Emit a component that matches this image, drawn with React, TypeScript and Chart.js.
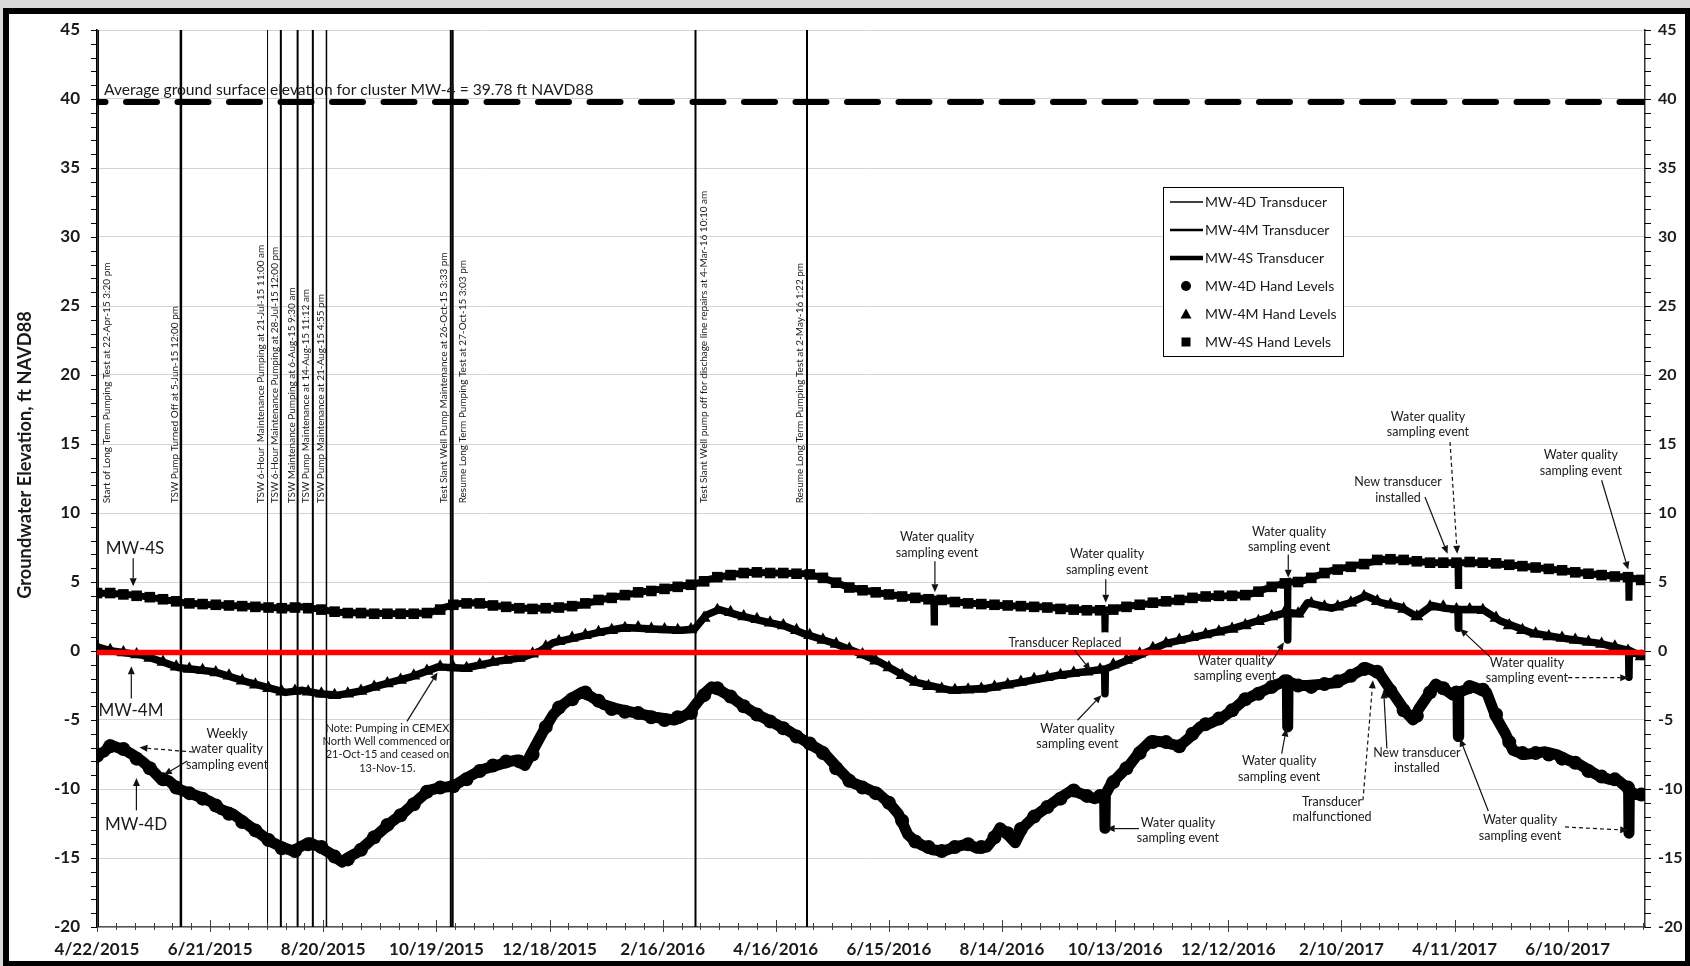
import React, { useEffect, useRef } from "react";
import { Chart, registerables } from "chart.js";

Chart.register(...registerables);

const FONT = "Lato, 'Open Sans', 'DejaVu Sans', sans-serif";

// ---------- axes (x = days since 4/22/2015) ----------
const X_MAX_DAY = 821;
const xTickDays = [0, 60, 120, 180, 240, 300, 360, 420, 480, 540, 600, 660, 720, 780];
const Y_MIN = -20;
const Y_MAX = 45;
const Y_STEP = 5;
const GROUND_ELEV = 39.78;
const RED_LEVEL = -0.1;

// ---------- transducer series: [day, elevation ft] ----------
const mw4sTransducer: [number, number][] = [
  [0, 4.2], [10, 4.15], [20, 4.05], [30, 3.85], [46, 3.5], [60, 3.35], [80, 3.25], [100, 3.1], [108, 3.2],
  [120, 3.0], [127, 2.8], [140, 2.75], [160, 2.7], [176, 2.75], [185, 3.2], [193, 3.45], [200, 3.5], [210, 3.3],
  [225, 3.1], [242, 3.1], [255, 3.3], [270, 3.8], [290, 4.3], [305, 4.6], [317, 4.85], [325, 5.2], [335, 5.5],
  [345, 5.7], [360, 5.65], [376, 5.6], [385, 5.3], [399, 4.6], [415, 4.2], [430, 3.9], [443.8, 3.75], [444, 2.1],
  [444.2, 3.75], [460, 3.5], [480, 3.3], [500, 3.2], [520, 3.0], [534.4, 2.95], [534.6, 1.35], [534.8, 2.95],
  [550, 3.3], [570, 3.6], [585, 3.9], [600, 4.0], [611, 4.1], [622, 4.6], [631.3, 5.0], [631.5, 2.9], [631.7, 5.0],
  [638, 5.0], [655, 5.85], [673, 6.35], [682, 6.65], [691, 6.6], [708, 6.4], [721.8, 6.4], [722, 4.75], [722.2, 6.4],
  [735, 6.4], [753, 6.2], [770, 5.95], [788, 5.65], [806, 5.4], [812.3, 5.35], [812.5, 3.65], [812.7, 5.35], [820, 5.1],
];

const mw4mTransducer: [number, number][] = [
  [0, 0.3], [8, 0.0], [24, -0.3], [35, -0.8], [43, -1.2], [62, -1.5], [81, -2.3], [100, -3.0], [109, -2.85],
  [118, -3.1], [128, -3.2], [140, -2.9], [147, -2.6], [166, -1.9], [181, -1.15], [195, -1.25], [214, -0.7],
  [225, -0.5], [235, 0.0], [242, 0.6], [255, 1.0], [268, 1.4], [280, 1.7], [295, 1.6], [310, 1.5], [317, 1.6],
  [323, 2.6], [330, 3.0], [340, 2.6], [352, 2.2], [365, 1.8], [376, 1.2], [390, 0.6], [405, -0.2], [415, -0.8],
  [434, -2.25], [453, -2.85], [472, -2.7], [491, -2.25], [510, -1.76], [527, -1.45], [534.4, -1.3], [534.6, -3.1],
  [534.8, -1.3], [548, -0.6], [567, 0.55], [585, 1.1], [604, 1.7], [623, 2.5], [631.3, 2.8], [631.5, 0.8],
  [631.7, 2.8], [638, 2.7], [642, 3.5], [655, 3.1], [665, 3.5], [673, 4.0], [681, 3.5], [691, 3.2], [700, 2.5],
  [708, 3.3], [715, 3.1], [721.8, 3.0], [722, 1.65], [722.2, 3.0], [735, 3.0], [744, 2.2], [761, 1.3], [779, 0.9],
  [797, 0.55], [812.3, 0.05], [812.5, -1.9], [812.7, 0.05], [820, -0.45],
];

const mw4dTransducer: [number, number][] = [
  [0, -7.5], [4, -7.3], [7, -6.8], [11, -7.0], [15, -7.2], [20, -7.6], [24, -8.0], [29, -8.6], [34, -9.3],
  [38, -9.4], [43, -10.0], [49, -10.3], [55, -10.6], [60, -10.9], [66, -11.5], [72, -11.8], [81, -12.7],
  [86, -13.2], [92, -13.8], [98, -14.2], [104, -14.5], [109, -14.1], [113, -13.9], [118, -14.2], [123, -14.6],
  [127, -15.0], [130, -15.3], [134, -14.9], [138, -14.6], [143, -14.0], [147, -13.5], [152, -12.9], [157, -12.3],
  [162, -11.8], [166, -11.3], [171, -10.7], [176, -10.1], [182, -9.9], [189, -9.8], [196, -9.2], [204, -8.6],
  [209, -8.4], [214, -8.2], [219, -8.0], [223, -7.9], [227, -8.3], [232, -7.0], [238, -5.5], [242, -4.6],
  [247, -3.9], [252, -3.4], [257, -3.0], [262, -3.3], [269, -3.9], [276, -4.2], [286, -4.5], [296, -4.8],
  [306, -5.0], [310, -4.8], [314, -4.5], [318, -3.8], [322, -3.1], [326, -2.6], [331, -2.9], [337, -3.4],
  [343, -4.0], [350, -4.6], [356, -5.0], [360, -5.3], [367, -5.8], [374, -6.4], [380, -6.9], [385, -7.3],
  [389, -7.9], [395, -8.8], [400, -9.5], [407, -9.9], [415, -10.4], [420, -11.0], [425, -11.8], [430, -13.3],
  [434, -13.8], [438, -14.1], [443, -14.4], [449, -14.5], [455, -14.2], [462, -14.0], [467, -14.3], [472, -14.2],
  [476, -13.5], [479, -12.8], [483, -13.3], [487, -13.9], [491, -12.8], [497, -12.0], [504, -11.3], [510, -10.7],
  [517, -10.1], [523, -10.4], [529, -10.7], [534.4, -10.5], [534.6, -12.85], [534.8, -10.4], [538, -9.6],
  [543, -8.9], [548, -8.2], [553, -7.3], [559, -6.5], [566, -6.6], [574, -6.9], [580, -6.2], [585, -5.5],
  [591, -5.2], [597, -4.8], [603, -4.2], [608, -3.6], [615, -3.1], [623, -2.6], [631.3, -2.1], [631.5, -5.5],
  [631.7, -2.2], [637, -2.5], [642, -2.5], [650, -2.4], [657, -2.3], [665, -1.8], [673, -1.2], [680, -1.6],
  [685, -2.6], [690, -3.6], [694, -4.4], [698, -5.0], [701, -4.2], [705, -3.4], [710, -2.4], [715, -2.8],
  [719, -3.2], [721.8, -3.0], [722, -6.2], [722.2, -3.0], [726, -2.8], [730, -2.6], [737, -3.0], [742, -4.8],
  [747, -6.0], [751, -7.2], [757, -7.5], [763, -7.4], [768, -7.3], [774, -7.5], [780, -7.9], [786, -8.2],
  [792, -8.7], [797, -9.1], [802, -9.3], [807, -9.4], [812.3, -10.0], [812.5, -13.2], [812.7, -10.1],
  [816, -10.4], [820, -10.4],
];

// ---------- weekly hand levels ----------
const handDays = [
  0, 7, 14, 21, 28, 35, 42, 49, 56, 63, 70, 77, 84, 91, 98, 105, 112, 119, 126, 133, 140, 147, 154, 161, 168,
  175, 182, 189, 196, 203, 210, 217, 224, 231, 238, 245, 252, 259, 266, 273, 280, 287, 294, 301, 308, 315, 322,
  329, 336, 343, 350, 357, 364, 371, 378, 385, 392, 399, 406, 413, 420, 427, 434, 441, 448, 455, 462, 469, 476,
  483, 490, 497, 504, 511, 518, 525, 532, 539, 546, 553, 560, 567, 574, 581, 588, 595, 602, 609, 616, 623, 630,
  637, 644, 651, 658, 665, 672, 679, 686, 693, 700, 707, 714, 721, 728, 735, 742, 749, 756, 763, 770, 777, 784,
  791, 798, 805, 812, 819,
];
const hand4S = [
  4.2, 4.2, 4.1, 4.0, 3.9, 3.75, 3.6, 3.45, 3.4, 3.35,
  3.3, 3.25, 3.2, 3.15, 3.1, 3.15, 3.1, 3.0, 2.85, 2.75,
  2.75, 2.7, 2.7, 2.7, 2.7, 2.75, 3.0, 3.35, 3.45, 3.45,
  3.3, 3.2, 3.1, 3.05, 3.1, 3.15, 3.25, 3.45, 3.7, 3.85,
  4.05, 4.25, 4.35, 4.5, 4.65, 4.8, 5.05, 5.35, 5.5, 5.65,
  5.7, 5.65, 5.65, 5.6, 5.55, 5.3, 4.95, 4.6, 4.4, 4.25,
  4.1, 3.95, 3.85, 3.75, 3.7, 3.55, 3.45, 3.4, 3.35, 3.3,
  3.25, 3.2, 3.15, 3.05, 3.0, 2.95, 2.95, 3.0, 3.2, 3.35,
  3.5, 3.6, 3.7, 3.85, 3.95, 4.0, 4.0, 4.05, 4.3, 4.65,
  4.9, 5.0, 5.3, 5.65, 5.9, 6.1, 6.3, 6.6, 6.65, 6.6,
  6.5, 6.4, 6.4, 6.4, 6.45, 6.4, 6.35, 6.25, 6.15, 6.05,
  5.95, 5.85, 5.7, 5.6, 5.5, 5.4, 5.35, 5.15,
];
const hand4M = [
  0.3, 0.05, -0.1, -0.25, -0.5, -0.8, -1.15, -1.3, -1.4, -1.55,
  -1.8, -2.15, -2.45, -2.7, -2.95, -2.9, -2.95, -3.1, -3.2, -3.1,
  -2.9, -2.6, -2.35, -2.1, -1.8, -1.45, -1.15, -1.2, -1.25, -1.0,
  -0.8, -0.65, -0.5, -0.2, 0.3, 0.7, 0.95, 1.15, 1.35, 1.5,
  1.65, 1.7, 1.6, 1.55, 1.5, 1.55, 2.4, 2.95, 2.8, 2.5,
  2.3, 2.05, 1.85, 1.5, 1.15, 0.8, 0.5, 0.15, -0.25, -0.7,
  -1.2, -1.75, -2.25, -2.55, -2.75, -2.85, -2.8, -2.75, -2.6, -2.45,
  -2.25, -2.05, -1.9, -1.75, -1.6, -1.5, -1.35, -1.0, -0.65, -0.2,
  0.2, 0.55, 0.8, 1.0, 1.2, 1.4, 1.6, 1.85, 2.15, 2.5,
  2.85, 2.7, 3.45, 3.2, 3.2, 3.5, 3.95, 3.6, 3.35, 3.05,
  2.5, 3.2, 3.2, 3.0, 3.0, 2.95, 2.4, 1.85, 1.5, 1.25,
  1.05, 0.95, 0.8, 0.65, 0.5, 0.3, 0.0, -0.4,
];
const hand4D = [
  -7.6, -6.9, -7.1, -7.8, -8.5, -9.3, -9.9, -10.3, -10.7, -11.2,
  -11.8, -12.4, -13.0, -13.7, -14.3, -14.5, -14.0, -14.2, -14.9, -15.1,
  -14.4, -13.5, -12.6, -11.9, -11.1, -10.2, -9.9, -9.8, -9.3, -8.7,
  -8.3, -8.0, -8.0, -7.5, -5.5, -4.1, -3.5, -3.0, -3.6, -4.2,
  -4.4, -4.5, -4.8, -5.0, -4.8, -4.5, -3.2, -2.7, -3.3, -4.0,
  -4.6, -5.1, -5.6, -6.2, -6.7, -7.4, -8.5, -9.4, -9.9, -10.3,
  -11.0, -12.3, -13.8, -14.2, -14.5, -14.2, -14.0, -14.2, -13.5, -13.2,
  -12.9, -12.0, -11.3, -10.7, -10.1, -10.5, -10.5, -9.5, -8.5, -7.4,
  -6.6, -6.6, -6.9, -6.0, -5.3, -4.9, -4.3, -3.5, -3.1, -2.6,
  -2.2, -2.5, -2.6, -2.4, -2.2, -1.8, -1.3, -1.5, -2.9, -4.3,
  -4.7, -3.0, -2.7, -3.0, -2.6, -2.8, -4.6, -6.6, -7.4, -7.4,
  -7.5, -7.8, -8.1, -8.7, -9.1, -9.3, -9.9, -10.4,
];

// ---------- pumping events (vertical lines) ----------
const eventDays = [0.64, 44.5, 90.46, 97.5, 106.4, 114.47, 121.7, 187.65, 188.63, 317.42, 376.56];
const eventLabels = [
  "Start of Long Term Pumping Test at 22-Apr-15 3:20 pm",
  "TSW Pump Turned Off at 5-Jun-15 12:00 pm",
  "TSW 6-Hour  Maintenance Pumping at 21-Jul-15 11:00 am",
  "TSW 6-Hour Maintenance Pumping at 28-Jul-15 12:00 pm",
  "TSW Maintenance Pumping at 6-Aug-15 9:30 am",
  "TSW Pump Maintenance at 14-Aug-15 11:12 am",
  "TSW Pump Maintenance at 21-Aug-15 4:55 pm",
  "Test Slant Well Pump Maintenance at 26-Oct-15 3:33 pm",
  "Resume Long Term Pumping Test at 27-Oct-15 3:03 pm",
  "Test Slant Well pump off for dischage line repairs at 4-Mar-16 10:10 am",
  "Resume Long Term Pumping Test at 2-May-16 1:22 pm",
];
// styling of the event lines (kept apart from the data)
const eventLineWidths = [1.5, 2.5, 1, 2, 2, 2, 1.5, 2, 2, 2, 2];
const eventLabelOffsets = [9, -6, -7, -6, -6, -7, -6, -7, 10, 8, -7];
const EVENT_LABEL_START = 10.7;

const legendLabels = [
  "MW-4D Transducer",
  "MW-4M Transducer",
  "MW-4S Transducer",
  "MW-4D Hand Levels",
  "MW-4M Hand Levels",
  "MW-4S Hand Levels",
];

// ---------- text annotations (anchored in data coordinates) ----------
type Arrow = { from: [number, number]; to: [number, number]; dashed?: boolean };
type Note = { lines: string[]; at: [number, number]; size: number; lh: number; arrows: Arrow[] };
const WQ = ["Water quality", "sampling event"];
const AS = 12.5;
const AL = 15.5;
const notes: Note[] = [
  { lines: ["MW-4S"], at: [20.2, 7.44], size: 17, lh: 18, arrows: [{ from: [19.2, 6.72], to: [19.2, 4.7] }] },
  { lines: ["MW-4M"], at: [18.0, -4.3], size: 17, lh: 18, arrows: [{ from: [18.2, -3.45], to: [18.2, -1.1] }] },
  { lines: ["MW-4D"], at: [20.7, -12.55], size: 17, lh: 18, arrows: [{ from: [20.9, -11.55], to: [20.9, -9.2] }] },
  {
    lines: ["Weekly", "water quality", "sampling event"], at: [69, -7.12], size: AS, lh: AL,
    arrows: [{ from: [50.9, -7.32], to: [22.5, -7.0], dashed: true }, { from: [47.9, -7.97], to: [35.5, -8.97] }],
  },
  {
    lines: ["Note: Pumping in CEMEX", "North Well commenced on", "21-Oct-15 and ceased on", "13-Nov-15."],
    at: [154, -7.05], size: 11, lh: 13.3, arrows: [{ from: [164.4, -5.1], to: [180.6, -1.55] }],
  },
  { lines: WQ, at: [445.5, 7.7], size: AS, lh: AL, arrows: [{ from: [444.4, 6.5], to: [444.4, 4.25] }] },
  { lines: WQ, at: [535.7, 6.46], size: AS, lh: AL, arrows: [{ from: [535, 5.2], to: [535, 3.5] }] },
  { lines: WQ, at: [632.2, 8.1], size: AS, lh: AL, arrows: [{ from: [631.8, 7.0], to: [631.8, 5.3] }] },
  { lines: WQ, at: [705.9, 16.4], size: AS, lh: AL, arrows: [{ from: [717.6, 15.15], to: [721.4, 7.05], dashed: true }] },
  { lines: ["New transducer", "installed"], at: [690, 11.68], size: AS, lh: AL, arrows: [{ from: [704.3, 11.16], to: [716.3, 7.05] }] },
  { lines: WQ, at: [787, 13.64], size: AS, lh: AL, arrows: [{ from: [798, 12.37], to: [812.1, 5.9] }] },
  { lines: ["Transducer Replaced"], at: [513.4, 0.56], size: AS, lh: AL, arrows: [{ from: [518.5, 0.05], to: [527, -1.4] }] },
  { lines: WQ, at: [520, -6.2], size: AS, lh: AL, arrows: [{ from: [520, -5.02], to: [532.7, -3.2] }] },
  { lines: WQ, at: [603.5, -1.25], size: AS, lh: AL, arrows: [{ from: [622, -1.0], to: [629.5, 0.63] }] },
  { lines: WQ, at: [627, -8.54], size: AS, lh: AL, arrows: [{ from: [628.3, -7.43], to: [630.8, -5.62] }] },
  { lines: WQ, at: [573.3, -13.0], size: AS, lh: AL, arrows: [{ from: [552.6, -12.87], to: [535.5, -12.87] }] },
  { lines: ["Transducer", "malfunctioned"], at: [655, -11.5], size: AS, lh: AL, arrows: [{ from: [671.4, -10.82], to: [676.7, -2.12], dashed: true }] },
  { lines: ["New transducer", "installed"], at: [700, -7.92], size: AS, lh: AL, arrows: [{ from: [684.1, -7.07], to: [682.4, -2.85] }] },
  {
    lines: WQ, at: [758.4, -1.4], size: AS, lh: AL,
    arrows: [{ from: [738.8, -0.43], to: [722.9, 1.62] }, { from: [780.3, -1.93], to: [812.1, -1.93], dashed: true }],
  },
  {
    lines: WQ, at: [754.7, -12.81], size: AS, lh: AL,
    arrows: [{ from: [737.9, -11.6], to: [722.9, -6.35] }, { from: [778.6, -12.75], to: [812.1, -12.99], dashed: true }],
  },
];

function dayLabel(v: number): string {
  const d = new Date(2015, 3, 22 + Math.round(v));
  return `${d.getMonth() + 1}/${d.getDate()}/${d.getFullYear()}`;
}

function drawArrow(ctx: CanvasRenderingContext2D, x1: number, y1: number, x2: number, y2: number, dashed?: boolean) {
  const ang = Math.atan2(y2 - y1, x2 - x1);
  const head = 8;
  const hw = 3.5;
  const bx = x2 - head * Math.cos(ang);
  const by = y2 - head * Math.sin(ang);
  ctx.save();
  ctx.strokeStyle = "#111";
  ctx.fillStyle = "#111";
  ctx.lineWidth = 1.2;
  if (dashed) ctx.setLineDash([4, 3]);
  ctx.beginPath();
  ctx.moveTo(x1, y1);
  ctx.lineTo(bx, by);
  ctx.stroke();
  ctx.setLineDash([]);
  ctx.beginPath();
  ctx.moveTo(x2, y2);
  ctx.lineTo(bx + hw * Math.sin(ang), by - hw * Math.cos(ang));
  ctx.lineTo(bx - hw * Math.sin(ang), by + hw * Math.cos(ang));
  ctx.closePath();
  ctx.fill();
  ctx.restore();
}

function fitSize(ctx: CanvasRenderingContext2D, text: string, weight: string, target: number): number {
  ctx.font = `${weight} 20px ${FONT}`;
  const w = ctx.measureText(text).width;
  return (20 * target) / w;
}

const framePlugin = {
  id: "frame",
  beforeDraw(chart: any) {
    const { ctx, width, height } = chart;
    ctx.save();
    ctx.fillStyle = "#d9d9d9";
    ctx.fillRect(0, 0, width, height);
    ctx.fillStyle = "#ffffff";
    ctx.fillRect(3, 8, width - 3, height - 8);
    ctx.fillStyle = "#000";
    ctx.fillRect(3, 8, width - 3, 6); // top
    ctx.fillRect(3, 8, 6, height - 8); // left
    ctx.fillRect(width - 5, 8, 5, height - 8); // right
    ctx.fillRect(3, height - 5, width - 3, 5); // bottom
    ctx.restore();
  },
};

const eventsPlugin = {
  id: "events",
  beforeDatasetsDraw(chart: any) {
    const { ctx, chartArea, scales } = chart;
    const xs = scales.x;
    const ys = scales.y;
    ctx.save();
    ctx.strokeStyle = "#000";
    eventDays.forEach((d, i) => {
      const x = xs.getPixelForValue(d);
      ctx.lineWidth = eventLineWidths[i];
      ctx.beginPath();
      ctx.moveTo(x, chartArea.top);
      ctx.lineTo(x, chartArea.bottom);
      ctx.stroke();
    });
    const size = fitSize(ctx, eventLabels[0], "normal", 241);
    ctx.font = `normal ${size}px ${FONT}`;
    ctx.fillStyle = "#1a1a1a";
    ctx.textAlign = "left";
    ctx.textBaseline = "middle";
    const y0 = ys.getPixelForValue(EVENT_LABEL_START);
    eventDays.forEach((d, i) => {
      const x = xs.getPixelForValue(d) + eventLabelOffsets[i];
      ctx.save();
      ctx.translate(x, y0);
      ctx.rotate(-Math.PI / 2);
      ctx.fillText(eventLabels[i], 0, 0);
      ctx.restore();
    });
    ctx.restore();
  },
};

const decorPlugin = {
  id: "decor",
  afterDraw(chart: any) {
    const { ctx, chartArea, scales } = chart;
    const xs = scales.x;
    const ys = scales.y;
    ctx.save();
    // minor/major ticks on y axes
    ctx.strokeStyle = "#000";
    ctx.lineWidth = 1;
    for (let v = Y_MIN; v <= Y_MAX; v += 1) {
      const y = Math.round(ys.getPixelForValue(v)) + 0.5;
      ctx.beginPath();
      ctx.moveTo(chartArea.left - 6, y);
      ctx.lineTo(chartArea.left, y);
      ctx.moveTo(chartArea.right, y);
      ctx.lineTo(chartArea.right + 6, y);
      ctx.stroke();
    }
    // ticks on x axis
    ctx.strokeStyle = "#404040";
    for (let d = 0; d <= X_MAX_DAY; d += 10) {
      const x = Math.round(xs.getPixelForValue(d)) + 0.5;
      const major = d % 60 === 0;
      ctx.beginPath();
      ctx.moveTo(x, chartArea.bottom - (major ? 7 : 4));
      ctx.lineTo(x, chartArea.bottom + (major ? 5 : 3));
      ctx.stroke();
    }
    // y axis title
    const tSize = fitSize(ctx, "Groundwater Elevation, ft NAVD88", "bold", 288);
    ctx.font = `bold ${tSize}px ${FONT}`;
    ctx.fillStyle = "#1a1a1a";
    ctx.textAlign = "center";
    ctx.textBaseline = "middle";
    ctx.save();
    ctx.translate(25, 455);
    ctx.rotate(-Math.PI / 2);
    ctx.fillText("Groundwater Elevation, ft NAVD88", 0, 0);
    ctx.restore();
    // ground surface label
    const gText = "Average ground surface elevation for cluster MW-4 = 39.78 ft NAVD88";
    const gSize = fitSize(ctx, gText, "normal", 490);
    ctx.font = `normal ${gSize}px ${FONT}`;
    ctx.textAlign = "left";
    ctx.fillText(gText, xs.getPixelForValue(3.7), ys.getPixelForValue(40.65));
    // annotations
    notes.forEach((n) => {
      ctx.font = `normal ${n.size}px ${FONT}`;
      ctx.fillStyle = "#1a1a1a";
      ctx.textAlign = "center";
      ctx.textBaseline = "middle";
      const cx = xs.getPixelForValue(n.at[0]);
      const cy = ys.getPixelForValue(n.at[1]);
      const top = cy - ((n.lines.length - 1) * n.lh) / 2;
      n.lines.forEach((t, i) => ctx.fillText(t, cx, top + i * n.lh));
      n.arrows.forEach((a) =>
        drawArrow(
          ctx,
          xs.getPixelForValue(a.from[0]),
          ys.getPixelForValue(a.from[1]),
          xs.getPixelForValue(a.to[0]),
          ys.getPixelForValue(a.to[1]),
          a.dashed
        )
      );
    });
    // legend
    const lx = 1163;
    const ly = 187;
    ctx.fillStyle = "#fff";
    ctx.fillRect(lx, ly, 180, 169);
    ctx.strokeStyle = "#000";
    ctx.lineWidth = 1;
    ctx.strokeRect(lx + 0.5, ly + 0.5, 180, 169);
    const lineW = [1.5, 2.5, 4.5];
    legendLabels.forEach((lab, i) => {
      const y = ly + 15 + i * 28;
      ctx.fillStyle = "#000";
      ctx.strokeStyle = "#000";
      if (i < 3) {
        ctx.lineWidth = lineW[i];
        ctx.beginPath();
        ctx.moveTo(lx + 7, y);
        ctx.lineTo(lx + 40, y);
        ctx.stroke();
      } else if (i === 3) {
        ctx.beginPath();
        ctx.arc(lx + 23, y, 5, 0, Math.PI * 2);
        ctx.fill();
      } else if (i === 4) {
        ctx.beginPath();
        ctx.moveTo(lx + 23, y - 5.5);
        ctx.lineTo(lx + 28.5, y + 4.5);
        ctx.lineTo(lx + 17.5, y + 4.5);
        ctx.closePath();
        ctx.fill();
      } else {
        ctx.fillRect(lx + 18.5, y - 4.5, 9, 9);
      }
      ctx.font = `normal 14px ${FONT}`;
      ctx.fillStyle = "#1a1a1a";
      ctx.textAlign = "left";
      ctx.textBaseline = "middle";
      ctx.fillText(lab, lx + 42, y);
    });
    ctx.restore();
  },
};

const toPts = (arr: [number, number][]) => arr.map(([x, y]) => ({ x, y }));
const handPts = (vals: number[]) => handDays.map((x, i) => ({ x, y: vals[i] }));

export default function App() {
  const ref = useRef<HTMLCanvasElement | null>(null);

  useEffect(() => {
    document.body.style.margin = "0";
    const canvas = ref.current;
    if (!canvas) return;
    const tickFont = { family: FONT, size: 17, weight: "bold" as const };
    const chart = new Chart(canvas, {
      type: "line",
      data: {
        datasets: [
          {
            label: "Zero reference",
            data: [{ x: 0, y: RED_LEVEL }, { x: X_MAX_DAY, y: RED_LEVEL }],
            borderColor: "#ff0000",
            borderWidth: 5.5,
            pointRadius: 0,
            order: 0,
          },
          {
            label: legendLabels[0],
            data: toPts(mw4dTransducer),
            borderColor: "#000",
            borderWidth: 11,
            borderJoinStyle: "round",
            pointRadius: 0,
            order: 6,
          },
          {
            label: legendLabels[1],
            data: toPts(mw4mTransducer),
            borderColor: "#000",
            borderWidth: 7.5,
            borderJoinStyle: "round",
            pointRadius: 0,
            order: 5,
          },
          {
            label: legendLabels[2],
            data: toPts(mw4sTransducer),
            borderColor: "#000",
            borderWidth: 7,
            pointRadius: 0,
            order: 4,
          },
          {
            label: legendLabels[3],
            data: handPts(hand4D),
            showLine: false,
            pointStyle: "circle",
            pointRadius: 7,
            backgroundColor: "#000",
            borderColor: "#000",
            borderWidth: 0,
            order: 3,
          },
          {
            label: legendLabels[4],
            data: handPts(hand4M),
            showLine: false,
            pointStyle: "triangle",
            pointRadius: 7.5,
            backgroundColor: "#000",
            borderColor: "#000",
            borderWidth: 0,
            order: 2,
          },
          {
            label: legendLabels[5],
            data: handPts(hand4S),
            showLine: false,
            pointStyle: "rect",
            pointRadius: 7.5,
            backgroundColor: "#000",
            borderColor: "#000",
            borderWidth: 0,
            order: 1,
          },
          {
            label: "Average ground surface elevation",
            data: [{ x: 0, y: GROUND_ELEV }, { x: X_MAX_DAY, y: GROUND_ELEV }],
            borderColor: "#000",
            borderWidth: 6,
            borderDash: [31, 20.5],
            borderDashOffset: 22.5,
            borderCapStyle: "round",
            pointRadius: 0,
            order: 7,
          },
        ],
      },
      options: {
        animation: false,
        responsive: false,
        devicePixelRatio: 1,
        events: [],
        layout: { padding: { top: 30, left: 0, right: 0, bottom: 0 } },
        plugins: { legend: { display: false }, tooltip: { enabled: false }, title: { display: false } },
        scales: {
          x: {
            type: "linear",
            min: 0,
            max: X_MAX_DAY,
            afterBuildTicks: (scale: any) => {
              scale.ticks = xTickDays.map((v) => ({ value: v }));
            },
            ticks: {
              autoSkip: false,
              maxRotation: 0,
              minRotation: 0,
              font: tickFont,
              color: "#1a1a1a",
              padding: 12,
              callback: (v: any) => dayLabel(Number(v)),
            },
            grid: { display: false, drawTicks: false },
            border: { display: true, color: "#555", width: 1.5 },
            afterFit: (scale: any) => {
              scale.height = 39;
            },
          },
          y: {
            type: "linear",
            position: "left",
            min: Y_MIN,
            max: Y_MAX,
            ticks: { stepSize: Y_STEP, font: tickFont, color: "#1a1a1a", padding: 17 },
            grid: { color: "#d4d4d4", lineWidth: 1, drawTicks: false },
            border: { display: true, color: "#000", width: 1.5 },
            afterFit: (scale: any) => {
              scale.width = 97;
            },
          },
          y2: {
            type: "linear",
            position: "right",
            min: Y_MIN,
            max: Y_MAX,
            ticks: { stepSize: Y_STEP, font: { family: FONT, size: 16, weight: "bold" as const }, color: "#1a1a1a", padding: 13 },
            grid: { drawOnChartArea: false, drawTicks: false },
            border: { display: true, color: "#333", width: 1.5 },
            afterFit: (scale: any) => {
              scale.width = 45;
            },
          },
        },
      },
      plugins: [framePlugin, eventsPlugin, decorPlugin],
    } as any);
    return () => chart.destroy();
  }, []);

  return (
    <div style={{ width: 1690, height: 966 }}>
      <canvas ref={ref} width={1690} height={966} style={{ display: "block", width: 1690, height: 966 }} />
    </div>
  );
}
